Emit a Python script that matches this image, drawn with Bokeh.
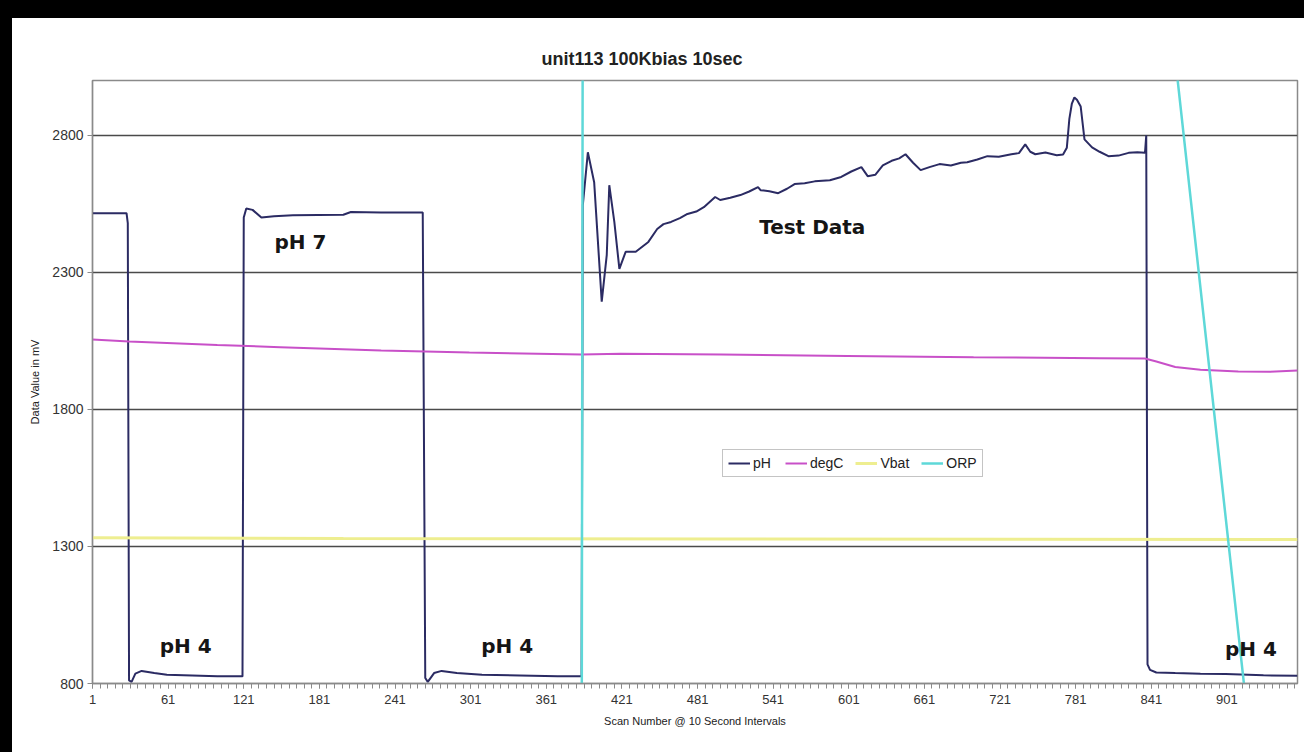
from bokeh.plotting import figure
from bokeh.models import (ColumnDataSource, FixedTicker, Legend, LegendItem, Label,
                          Range1d, Spacer)
from bokeh.layouts import column, row
from bokeh.embed import file_html
from bokeh.resources import INLINE

# ---------------- data ----------------
ph_scan = [1, 28, 29, 30, 32, 35, 40, 50, 60, 80, 100, 120,
           121, 123, 128, 135, 145, 160, 200, 206, 230, 263,
           265, 267, 272, 278, 290, 310, 340, 370, 389,
           390, 394, 399, 405, 409, 411, 415, 419, 424, 432, 442, 449, 454, 460,
           467, 473, 480, 486, 495, 499, 507, 515, 522, 529, 531, 538, 545, 552,
           558, 566, 574, 586, 595, 603, 611, 616, 622, 628, 635, 641, 646, 652,
           658, 665, 673, 682, 690, 695, 703, 711, 720, 730, 736, 741, 745, 749,
           757, 766, 771, 774, 776, 778, 780, 782, 785, 788, 794, 800, 807, 815,
           823, 830, 836, 837,
           838, 840, 845, 860, 880, 900, 930, 957]
ph_val = [2516, 2516, 2480, 811, 806, 836, 846, 838, 832, 829, 826, 826,
          2500, 2533, 2528, 2500, 2505, 2508, 2510, 2520, 2518, 2518,
          820, 806, 838, 846, 838, 832, 829, 826, 826,
          2545, 2738, 2629, 2193, 2364, 2618, 2484, 2313, 2375, 2375, 2411, 2458, 2476, 2484,
          2498, 2513, 2522, 2538, 2575, 2564, 2572, 2582, 2595, 2611, 2600, 2596, 2589, 2605,
          2622, 2625, 2632, 2636, 2648, 2668, 2684, 2651, 2656, 2690, 2707, 2716, 2731, 2700,
          2673, 2684, 2695, 2690, 2700, 2702, 2712, 2724, 2722, 2731, 2735, 2767, 2740, 2731,
          2737, 2727, 2730, 2755, 2860, 2916, 2938, 2930, 2905, 2785, 2756, 2740, 2724, 2726,
          2736, 2738, 2736, 2800,
          870, 850, 840, 838, 836, 835, 830, 828]

degc_scan = [1, 30, 100, 150, 230, 300, 389, 420, 500, 600, 700, 800, 836,
             845, 860, 880, 910, 935, 957]
degc_val = [2055, 2048, 2035, 2027, 2015, 2008, 2000, 2003, 2000, 1995, 1990, 1987, 1986,
            1975, 1955, 1945, 1938, 1937, 1942]

vbat_scan = [1, 200, 500, 957]
vbat_val = [1332, 1329, 1327, 1325]

orp_scan = [1, 389, 390, 850, 930, 957]
orp_val = [150, 150, 3500, 3500, 150, 150]

x_ticks = [1, 61, 121, 181, 241, 301, 361, 421, 481, 541, 601, 661, 721, 781, 841, 901]
y_ticks = [800, 1300, 1800, 2300, 2800]

series_names = ["pH", "degC", "Vbat", "ORP"]
series_colors = ["#2B2B63", "#C850C8", "#EEEE90", "#5ED8D8"]

# ---------------- figure ----------------
p = figure(width=1292, height=734, output_backend="svg", toolbar_location=None,
           x_range=Range1d(1, 957), y_range=Range1d(800, 3000),
           min_border_left=80, min_border_right=7, min_border_top=62,
           min_border_bottom=69, background_fill_color="white",
           border_fill_color="white")

p.title.text = "unit113 100Kbias 10sec"
p.title.align = "left"
p.title.offset = 449
p.title.text_font = "Liberation Sans"
p.title.text_font_size = "18px"
p.title.text_font_style = "bold"
p.title.text_color = "#222222"
p.title.standoff = 24

p.outline_line_color = "#8a8a8a"
p.outline_line_width = 1.5

p.xgrid.grid_line_color = None
p.ygrid.grid_line_color = "#4a4a4a"
p.ygrid.grid_line_width = 1.3

minor = [s for s in range(1, 958, 6)]
p.xaxis.ticker = FixedTicker(ticks=x_ticks, minor_ticks=minor)
p.yaxis.ticker = FixedTicker(ticks=y_ticks)

for ax in (p.xaxis[0], p.yaxis[0]):
    ax.axis_line_color = "#8a8a8a"
    ax.axis_line_width = 1.3
    ax.major_tick_line_color = "#8a8a8a"
    ax.minor_tick_line_color = "#8a8a8a"
    ax.major_tick_in = 0
    ax.major_tick_out = 5
    ax.minor_tick_in = 0
    ax.minor_tick_out = 5
    ax.major_label_text_font = "Liberation Sans"
    ax.major_label_text_font_size = "13px"
    ax.major_label_text_color = "#333333"
    ax.axis_label_text_font = "Liberation Sans"
    ax.axis_label_text_font_size = "11px"
    ax.axis_label_text_font_style = "normal"
    ax.axis_label_text_color = "#222222"

p.yaxis.major_label_text_font_size = "14px"
p.yaxis.minor_tick_out = 0
p.xaxis.axis_label = "Scan Number @ 10 Second Intervals"
p.yaxis.axis_label = "Data Value in mV"
p.xaxis.major_label_standoff = 6
p.yaxis.major_label_standoff = 4
p.xaxis.axis_label_standoff = 8
p.yaxis.axis_label_standoff = 8

widths = [2, 2, 3, 2.5]
srcs = [
    ColumnDataSource(dict(x=ph_scan, y=ph_val)),
    ColumnDataSource(dict(x=degc_scan, y=degc_val)),
    ColumnDataSource(dict(x=vbat_scan, y=vbat_val)),
    ColumnDataSource(dict(x=orp_scan, y=orp_val)),
]
renderers = []
for src, c, w in zip(srcs, series_colors, widths):
    r = p.line("x", "y", source=src, line_color=c, line_width=w)
    renderers.append(r)

legend = Legend(items=[LegendItem(label=n, renderers=[r]) for n, r in zip(series_names, renderers)],
                orientation="horizontal", location=(630, 206),
                label_text_font="Liberation Sans", label_text_font_size="14px",
                label_text_color="#222222", glyph_width=22, glyph_height=12,
                label_standoff=3, spacing=12, padding=5, margin=0,
                border_line_color="#8a8a8a", border_line_width=1.3,
                background_fill_color="white", background_fill_alpha=1.0,
                label_height=12)
p.add_layout(legend, "center")

annotations = [("pH 4", 75, 938), ("pH 7", 166, 2411), ("pH 4", 330, 938),
               ("Test Data", 572, 2465), ("pH 4", 920, 927)]
for txt, xx, yy in annotations:
    p.add_layout(Label(x=xx, y=yy, text=txt, text_font="DejaVu Sans",
                       text_font_style="bold", text_font_size="20px",
                       text_color="#151515", text_align="center",
                       text_baseline="middle"))

top = Spacer(width=1304, height=18, styles={"background-color": "black"})
left = Spacer(width=12, height=734, styles={"background-color": "black"})
layout = column(top, row(left, p))

open("out.html", "w").write(file_html(layout, INLINE))
